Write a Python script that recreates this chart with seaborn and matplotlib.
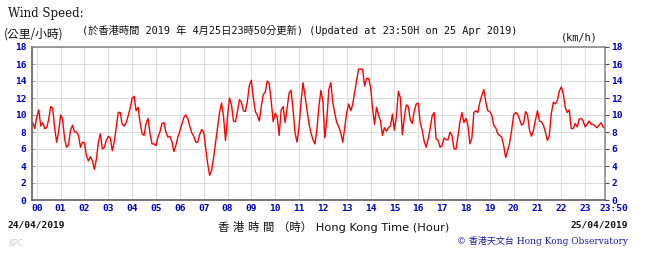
import numpy as np
import pandas as pd
import matplotlib
matplotlib.use("Agg")
import matplotlib.pyplot as plt
import matplotlib.transforms as mtransforms
import seaborn as sns

# Wind speed (km/h), 5-minute readings from 23:50 on 24/04 to 23:50 on 25/04
speed_kmh = [
    9.1, 8.4,
    9.8, 10.6, 8.7, 9.1, 8.4, 8.5, 9.5, 11.0, 10.8, 8.5, 6.8, 8.0,         # 00
    10.0, 9.5, 7.2, 6.2, 6.5, 8.2, 8.8, 8.0, 8.0, 7.6, 6.2, 6.8,           # 01
    6.7, 5.2, 4.6, 5.1, 4.6, 3.6, 4.8, 6.8, 7.8, 6.0, 6.2, 7.0,            # 02
    7.5, 7.3, 5.8, 6.8, 8.6, 10.3, 10.3, 8.9, 8.7, 9.1, 9.9, 10.8,         # 03
    12.0, 12.2, 10.5, 10.9, 9.1, 7.8, 7.6, 9.0, 9.6, 7.8, 6.6, 6.6,        # 04
    6.4, 7.4, 8.0, 9.0, 9.1, 8.0, 7.4, 7.5, 6.9, 5.7, 6.4, 7.4,            # 05
    8.1, 8.9, 9.7, 10.0, 9.6, 8.7, 7.9, 7.5, 6.8, 6.8, 7.7, 8.3,           # 06
    8.0, 6.2, 4.3, 2.9, 3.5, 5.0, 6.8, 8.5, 10.3, 11.4, 9.8, 7.0,          # 07
    9.8, 12.0, 11.2, 9.3, 9.2, 10.4, 11.8, 11.5, 10.5, 10.4, 11.6, 13.5,   # 08
    14.1, 12.0, 10.4, 10.0, 9.3, 11.0, 12.4, 12.7, 14.0, 13.7, 11.6, 9.2,  # 09
    10.2, 9.8, 7.6, 10.6, 11.0, 9.1, 10.8, 12.6, 12.9, 10.6, 7.9, 6.8,     # 10
    8.6, 11.5, 13.8, 12.3, 10.6, 9.0, 7.9, 7.1, 6.6, 8.3, 11.0, 12.9,      # 11
    11.6, 7.3, 9.5, 13.0, 13.8, 11.5, 10.2, 9.1, 8.6, 7.9, 6.8, 8.5,       # 12
    10.3, 11.3, 10.5, 11.2, 12.7, 14.1, 15.4, 15.4, 15.4, 13.4, 14.3, 14.3,  # 13
    13.3, 10.8, 8.9, 10.9, 10.0, 9.3, 7.6, 8.5, 8.1, 8.5, 8.7, 10.1,       # 14
    8.2, 9.8, 12.8, 12.0, 7.7, 9.7, 11.2, 11.0, 9.4, 9.0, 10.5, 11.3,      # 15
    11.4, 9.1, 8.2, 6.9, 6.2, 7.2, 8.4, 9.9, 10.3, 7.2, 7.0, 6.2,          # 16
    6.4, 7.3, 7.1, 7.1, 8.0, 7.6, 6.0, 6.0, 7.5, 9.2, 10.3, 9.1,           # 17
    9.6, 8.8, 6.6, 7.3, 10.3, 10.5, 10.3, 11.5, 12.3, 13.0, 11.5, 10.5,    # 18
    10.4, 10.0, 8.8, 8.5, 7.8, 7.6, 7.4, 6.4, 5.0, 5.8, 6.7, 8.2,          # 19
    10.0, 10.3, 10.1, 9.5, 8.8, 9.0, 10.4, 10.0, 8.2, 7.5, 8.2, 9.4,       # 20
    10.5, 9.3, 9.2, 8.8, 8.0, 7.0, 7.6, 10.2, 11.5, 11.3, 11.7, 12.8,      # 21
    13.3, 12.5, 10.9, 10.3, 10.6, 8.4, 8.4, 9.0, 8.6, 9.5, 9.6, 9.3,       # 22
    8.6, 8.9, 9.3, 8.9, 8.9, 8.7, 8.5, 8.8, 9.1, 8.6, 8.4,                 # 23
]
minutes = np.arange(-10, 1431, 5)

hour_ticks = list(range(24)) + [23 + 50 / 60]
hour_labels = [f"{h:02d}" for h in range(24)] + ["23:50"]
speed_ticks = list(range(0, 19, 2))

df = pd.DataFrame({"hour": minutes / 60, "speed": speed_kmh})

sns.set_theme(style="white")
plt.rcParams["font.family"] = ["DejaVu Sans", "Noto Sans CJK TC"]

blue = "#0000cc"
mono = ["DejaVu Sans Mono", "Noto Sans CJK TC"]

fig = plt.figure(figsize=(6.5, 2.58), dpi=100)
ax = fig.add_axes([32 / 650, 1 - 200 / 258, 573 / 650, 153 / 258])

sns.lineplot(data=df, x="hour", y="speed", ax=ax, color="#ff0000", linewidth=1.0)

ax.set_xlim(-0.2, hour_ticks[-1])
ax.set_ylim(0, 18)
ax.set_xticks(hour_ticks)
ax.set_xticklabels(hour_labels)
ax.set_yticks(speed_ticks)
ax.set_xlabel("")
ax.set_ylabel("")
ax.grid(True, color="#dcdcdc", linewidth=0.7)
ax.set_axisbelow(True)
for side, sp in ax.spines.items():
    sp.set_color("#606060" if side in ("left", "bottom") else "#8c8c8c")
    sp.set_linewidth(1.2)

ax.tick_params(axis="x", direction="in", length=3, width=0.8, color="#505050",
               pad=3, labelsize=6.8, labelcolor=blue)
ax.tick_params(axis="y", direction="in", length=2, width=0.6, color="#909090",
               pad=4, labelsize=6.8, labelcolor=blue)
for lab in ax.get_xticklabels() + ax.get_yticklabels():
    lab.set_fontweight("bold")
    lab.set_family(mono)

# last label "23:50" sits to the right of its tick, as in the original
last = ax.get_xticklabels()[-1]
last.set_horizontalalignment("left")
last.set_transform(last.get_transform() +
                   mtransforms.ScaledTranslation(-6 / 100, 0, fig.dpi_scale_trans))

ax2 = ax.twinx()
ax2.set_ylim(0, 18)
ax2.set_yticks(speed_ticks)
ax2.tick_params(axis="y", direction="out", length=3, width=0.8, color="#505050",
                pad=1.5, labelsize=6.8, labelcolor=blue)
for lab in ax2.get_yticklabels():
    lab.set_fontweight("bold")
    lab.set_family(mono)
for sp in ax2.spines.values():
    sp.set_visible(False)
ax2.grid(False)

# Header texts
fig.text(8 / 650, 1 - 13 / 258, "Wind Speed:", family="DejaVu Serif",
         fontsize=8.5, va="center", ha="left", color="#111111")
fig.text(4 / 650, 1 - 34 / 258, "(公里/小時)", family=["Noto Sans CJK TC"],
         fontsize=8.5, va="center", ha="left", color="#111111")
fig.text(82 / 650, 1 - 30 / 258,
         "(於香港時間 2019 年 4月25日23時50分更新) (Updated at 23:50H on 25 Apr 2019)",
         family=mono, fontsize=7.4, va="center", ha="left", color="#111111")
fig.text(598 / 650, 1 - 38 / 258, "(km/h)", family=mono, fontsize=7.4,
         va="center", ha="right", color="#111111")

# Footer texts
fig.text(8 / 650, 1 - 225 / 258, "24/04/2019", family=mono, fontweight="bold",
         fontsize=6.8, va="center", ha="left", color="#111111")
fig.text(628 / 650, 1 - 225 / 258, "25/04/2019", family=mono, fontweight="bold",
         fontsize=6.8, va="center", ha="right", color="#111111")
fig.text(334 / 650, 1 - 227 / 258, "香 港 時 間 （時） Hong Kong Time (Hour)",
         fontsize=8.2, va="center", ha="center", color="#111111")
fig.text(628 / 650, 1 - 241 / 258, "© 香港天文台 Hong Kong Observatory",
         family=["DejaVu Serif", "Noto Sans CJK TC"], fontsize=6.5,
         va="center", ha="right", color="#1a1aa8")
fig.text(8 / 650, 1 - 243 / 258, "KPC", fontsize=5.5, va="center", ha="left",
         color="#d0d0d0")

fig.savefig("out.png", dpi=100)
